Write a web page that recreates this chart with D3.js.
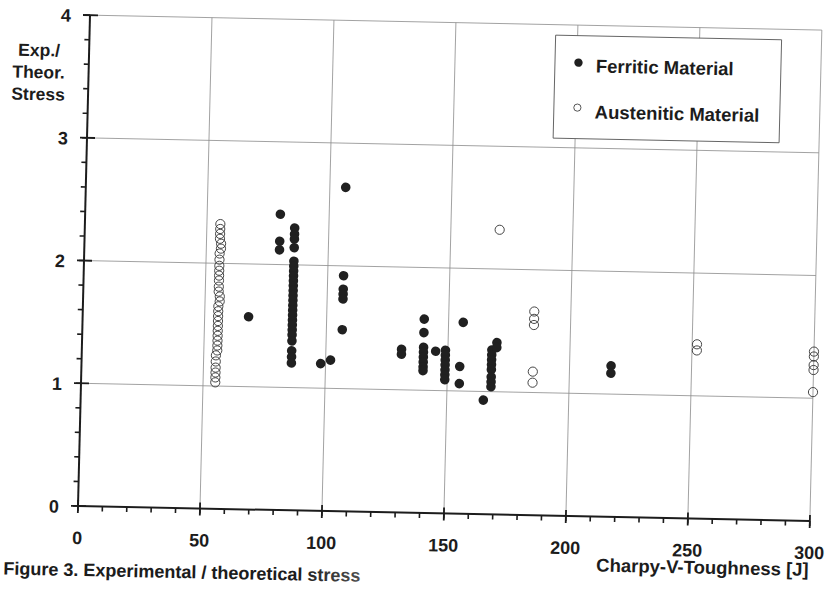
<!DOCTYPE html>
<html>
<head>
<meta charset="utf-8">
<script src="https://cdn.jsdelivr.net/npm/d3@7/dist/d3.min.js"></script>
<style>
  body { margin: 0; background: #fff; }
  svg { display: block; font-family: "Liberation Sans", Arial, sans-serif; font-weight: bold; }
</style>
</head>
<body>
<script>
// values: [Charpy-V toughness J, exp./theor. stress]
const ferritic = [
  [68, 1.57],
  [80, 2.41], [80, 2.19], [80, 2.12],
  [86, 2.30], [86, 2.25], [86, 2.21], [86, 2.14], [86, 2.03], [86, 1.99],
  [86, 1.95], [86, 1.91], [86, 1.87], [86, 1.83], [86, 1.79], [86, 1.75],
  [86, 1.71], [86, 1.67], [86, 1.63], [86, 1.59], [86, 1.55], [86, 1.51],
  [86, 1.47], [86, 1.43], [86, 1.38], [86, 1.30], [86, 1.25], [86, 1.20],
  [98, 1.20], [102, 1.23],
  [106.5, 2.64], [106.5, 1.92], [106.5, 1.81], [106.5, 1.77], [106.5, 1.73], [106.5, 1.48],
  [131, 1.33], [131, 1.29],
  [140, 1.58], [140, 1.47], [140, 1.35], [140, 1.31], [140, 1.27], [140, 1.23], [140, 1.19], [140, 1.16],
  [145, 1.32],
  [149, 1.33], [149, 1.29], [149, 1.25], [149, 1.21], [149, 1.17], [149, 1.13], [149, 1.09],
  [155, 1.20], [155, 1.06], [156, 1.56],
  [165, 0.93],
  [168, 1.34], [168, 1.30], [168, 1.26], [168, 1.22], [168, 1.18], [168, 1.12], [168, 1.08], [168, 1.04],
  [170, 1.40], [170, 1.36],
  [217, 1.23], [217, 1.17],
];

const austenitic = [
  [55.5, 2.32], [55.5, 2.28], [55.5, 2.24], [55.5, 2.20], [56, 2.16], [56, 2.12],
  [55.5, 2.08], [55.5, 2.03], [55.5, 1.98], [55.5, 1.94], [55.5, 1.90], [55.5, 1.86],
  [55.5, 1.81], [55.5, 1.77], [56, 1.73], [56, 1.69], [55.5, 1.65], [55.5, 1.61],
  [55.5, 1.57], [55.5, 1.53], [55.5, 1.49], [55.5, 1.45], [55.5, 1.41], [55.5, 1.37],
  [55.5, 1.33], [55.5, 1.29], [55, 1.25], [55, 1.20], [55, 1.15], [55, 1.11],
  [55, 1.07], [55, 1.03],
  [170, 2.32],
  [185, 1.66], [185, 1.60], [185, 1.55], [185, 1.17], [185, 1.08],
  [252, 1.42], [252, 1.37],
  [300, 1.38], [300, 1.34], [300, 1.27], [300, 1.23], [300, 1.05],
];

const xTickValues = [0, 50, 100, 150, 200, 250, 300];
const yTickValues = [0, 1, 2, 3, 4];
const xMinorTicks = d3.range(0, 301, 10);
const yMinorTicks = d3.range(0, 4.01, 0.2);
const yTitle = ["Exp./", "Theor.", "Stress"];
const xTitle = "Charpy-V-Toughness [J]";
const legendItems = ["Ferritic Material", "Austenitic Material"];
const captionText = "Figure 3. Experimental / theoretical stress";

const width = 828, height = 589;
const plotW = 732, plotH = 491;
const ink = "#1c1c1c";

// the scan is a little tilted, so the whole page sits in a skewed frame
const rad = Math.PI / 180;
const a = 1.17 * rad, b = 1.4 * rad;
const origin = [78, 506];
const frame = `matrix(${Math.cos(a)},${Math.sin(a)},${-Math.sin(b)},${Math.cos(b)},` +
  `${origin[0] + plotH * Math.sin(b)},${origin[1] - plotH * Math.cos(b)})`;

const x = d3.scaleLinear().domain([0, 300]).range([0, plotW]);
const y = d3.scaleLinear().domain([0, 4]).range([plotH, 0]);

const svg = d3.select("body").append("svg")
  .attr("width", width)
  .attr("height", height);

svg.append("rect").attr("width", width).attr("height", height).attr("fill", "#fff");

const g = svg.append("g").attr("transform", frame);

// grid
g.append("g")
  .selectAll("line")
  .data(xTickValues.slice(1))
  .join("line")
  .attr("x1", (d) => x(d)).attr("x2", (d) => x(d))
  .attr("y1", y(0)).attr("y2", y(4))
  .attr("stroke", "#8c8c8c")
  .attr("stroke-width", 0.8);

g.append("g")
  .selectAll("line")
  .data(yTickValues.slice(1))
  .join("line")
  .attr("x1", x(0)).attr("x2", x(300))
  .attr("y1", (d) => y(d)).attr("y2", (d) => y(d))
  .attr("stroke", "#8c8c8c")
  .attr("stroke-width", 0.8);

// axes
const axes = g.append("g").attr("stroke", ink);

axes.append("line")
  .attr("x1", x(0)).attr("x2", x(300))
  .attr("y1", y(0)).attr("y2", y(0))
  .attr("stroke-width", 2);

axes.append("line")
  .attr("x1", x(0)).attr("x2", x(0))
  .attr("y1", y(0)).attr("y2", y(4))
  .attr("stroke-width", 2);

axes.append("g")
  .selectAll("line")
  .data(xMinorTicks)
  .join("line")
  .attr("x1", (d) => x(d)).attr("x2", (d) => x(d))
  .attr("y1", y(0)).attr("y2", y(0) + 5)
  .attr("stroke-width", 1.6);

axes.append("g")
  .selectAll("line")
  .data(xTickValues)
  .join("line")
  .attr("x1", (d) => x(d)).attr("x2", (d) => x(d))
  .attr("y1", y(0) - 6).attr("y2", y(0) + 7)
  .attr("stroke-width", 1.8);

axes.append("g")
  .selectAll("line")
  .data(yMinorTicks)
  .join("line")
  .attr("x1", x(0) - 5).attr("x2", x(0))
  .attr("y1", (d) => y(d)).attr("y2", (d) => y(d))
  .attr("stroke-width", 1.6);

axes.append("g")
  .selectAll("line")
  .data(yTickValues)
  .join("line")
  .attr("x1", x(0) - 7).attr("x2", x(0) + 8)
  .attr("y1", (d) => y(d)).attr("y2", (d) => y(d))
  .attr("stroke-width", 1.8);

// tick labels
g.append("g")
  .attr("fill", ink)
  .attr("font-size", 18)
  .attr("text-anchor", "middle")
  .selectAll("text")
  .data(xTickValues)
  .join("text")
  .attr("x", (d) => x(d))
  .attr("y", y(0) + 38)
  .text((d) => d);

g.append("g")
  .attr("fill", ink)
  .attr("font-size", 18)
  .attr("text-anchor", "end")
  .selectAll("text")
  .data(yTickValues)
  .join("text")
  .attr("x", x(0) - 19)
  .attr("y", (d) => y(d) + 7)
  .text((d) => d);

// axis titles
g.append("g")
  .attr("fill", ink)
  .attr("font-size", 17.5)
  .attr("text-anchor", "middle")
  .selectAll("text")
  .data(yTitle)
  .join("text")
  .attr("x", -50)
  .attr("y", (d, i) => 42 + i * 22)
  .text((d) => d);

g.append("text")
  .attr("fill", ink)
  .attr("font-size", 18.5)
  .attr("text-anchor", "end")
  .attr("x", x(300))
  .attr("y", y(0) + 55)
  .text(xTitle);

// markers
g.append("g")
  .selectAll("circle")
  .data(ferritic)
  .join("circle")
  .attr("cx", (d) => x(d[0]))
  .attr("cy", (d) => y(d[1]))
  .attr("r", 4.8)
  .attr("fill", "#202020");

g.append("g")
  .selectAll("circle")
  .data(austenitic)
  .join("circle")
  .attr("cx", (d) => x(d[0]))
  .attr("cy", (d) => y(d[1]))
  .attr("r", 4.6)
  .attr("fill", "none")
  .attr("stroke", "#333")
  .attr("stroke-width", 0.9);

// legend
const legend = g.append("g").attr("transform", "translate(466,10.5)");

legend.append("rect")
  .attr("width", 226)
  .attr("height", 103)
  .attr("fill", "#fff")
  .attr("stroke", "#555")
  .attr("stroke-width", 0.9);

legend.append("circle")
  .attr("cx", 23.5).attr("cy", 27)
  .attr("r", 4.2)
  .attr("fill", "#202020");

legend.append("circle")
  .attr("cx", 23.5).attr("cy", 72)
  .attr("r", 3.6)
  .attr("fill", "none")
  .attr("stroke", "#444")
  .attr("stroke-width", 0.9);

legend.selectAll("text")
  .data(legendItems)
  .join("text")
  .attr("x", 41)
  .attr("y", (d, i) => 36.5 + i * 46)
  .attr("font-size", 18.5)
  .attr("fill", ink)
  .text((d) => d);

// caption at the bottom edge of the scan, fading out like the print
const fade = svg.append("defs").append("linearGradient")
  .attr("id", "captionFade")
  .attr("gradientUnits", "userSpaceOnUse")
  .attr("x1", 220).attr("x2", 380)
  .attr("y1", 0).attr("y2", 0);
fade.append("stop").attr("offset", 0).attr("stop-color", ink);
fade.append("stop").attr("offset", 1).attr("stop-color", "#9a9a9a");

g.append("text")
  .attr("x", -73)
  .attr("y", 561)
  .attr("font-size", 18)
  .attr("fill", "url(#captionFade)")
  .text(captionText);
</script>
</body>
</html>
